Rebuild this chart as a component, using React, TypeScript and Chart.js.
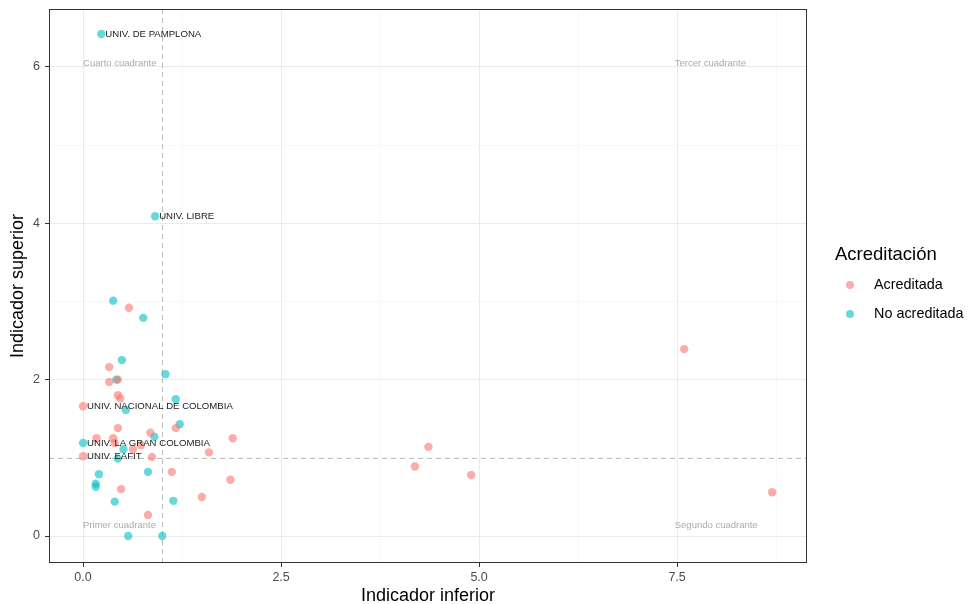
import React, { useEffect, useRef } from "react";
import { Chart, registerables } from "chart.js";

Chart.register(...registerables);

// ---------- Data ----------
const acredX = [0.58, 0.33, 0.33, 0.44, 0.44, 0.47, 0.0, 0.44, 0.17, 0.38, 0.40, 0.85, 1.17, 1.89, 1.59, 0.0, 0.87, 1.12, 1.86, 0.48, 1.50, 0.82, 0.63, 0.73, 4.19, 4.36, 4.90, 7.59, 8.70];
const acredY = [2.92, 2.16, 1.97, 2.00, 1.80, 1.76, 1.66, 1.38, 1.25, 1.25, 1.19, 1.32, 1.38, 1.25, 1.07, 1.02, 1.01, 0.82, 0.72, 0.60, 0.50, 0.27, 1.11, 1.16, 0.89, 1.14, 0.78, 2.39, 0.56];
const acredLabels = ["", "", "", "", "", "", "UNIV. NACIONAL DE COLOMBIA", "", "", "", "", "", "", "", "", "UNIV. EAFIT", "", "", "", "", "", "", "", "", "", "", "", "", ""];

const noAcredX = [0.23, 0.91, 0.38, 0.76, 0.49, 0.42, 1.04, 1.17, 0.54, 1.22, 0.90, 0.0, 0.51, 0.44, 0.20, 0.16, 0.16, 0.82, 0.40, 1.14, 0.57, 1.00];
const noAcredY = [6.42, 4.09, 3.01, 2.79, 2.25, 2.00, 2.07, 1.75, 1.61, 1.43, 1.27, 1.19, 1.11, 0.99, 0.79, 0.67, 0.63, 0.82, 0.44, 0.45, 0.0, 0.0];
const noAcredLabels = ["UNIV. DE PAMPLONA", "UNIV. LIBRE", "", "", "", "", "", "", "", "", "", "UNIV. LA GRAN COLOMBIA", "", "", "", "", "", "", "", "", "", ""];

const seriesNames = ["Acreditada", "No acreditada"];
const legendTitle = "Acreditación";
const xTitle = "Indicador inferior";
const yTitle = "Indicador superior";

const xTicks = [0, 1.25, 2.5, 3.75, 5, 6.25, 7.5, 8.75];
const xMajor = [0, 2.5, 5, 7.5];
const xTickLabels = ["0.0", "2.5", "5.0", "7.5"];
const yTicks = [0, 1, 2, 3, 4, 5, 6];
const yMajor = [0, 2, 4, 6];
const yTickLabels = ["0", "2", "4", "6"];

const quadrantNames = ["Cuarto cuadrante", "Tercer cuadrante", "Primer cuadrante", "Segundo cuadrante"];
const quadrantX = [0, 7.47, 0, 7.47];
const quadrantY = [6.05, 6.05, 0.14, 0.14];
const refX = 1;
const refY = 1;

const COLORS = ["rgba(248,118,109,0.6)", "rgba(0,191,196,0.6)"];
const FONT = "'Liberation Sans', Arial, Helvetica, sans-serif";

const idx = (arr: number[], v: number) => arr.findIndex((a) => Math.abs(a - v) < 1e-9);

const overlayPlugin = {
  id: "overlay",
  beforeDatasetsDraw(chart: any) {
    const { ctx, chartArea, scales } = chart;
    const x = scales.x, y = scales.y;
    ctx.save();
    ctx.beginPath();
    ctx.rect(chartArea.left, chartArea.top, chartArea.right - chartArea.left, chartArea.bottom - chartArea.top);
    ctx.clip();
    ctx.strokeStyle = "#bdbdbd";
    ctx.lineWidth = 1;
    ctx.setLineDash([5, 4]);
    const px = Math.round(x.getPixelForValue(refX)) + 0.5;
    ctx.beginPath();
    ctx.moveTo(px, chartArea.top);
    ctx.lineTo(px, chartArea.bottom);
    ctx.stroke();
    const py = Math.round(y.getPixelForValue(refY)) + 0.5;
    ctx.beginPath();
    ctx.moveTo(chartArea.left, py);
    ctx.lineTo(chartArea.right, py);
    ctx.stroke();
    ctx.setLineDash([]);
    ctx.fillStyle = "#ababab";
    ctx.font = `9.5px ${FONT}`;
    ctx.textAlign = "left";
    ctx.textBaseline = "middle";
    quadrantNames.forEach((n, i) => {
      ctx.fillText(n, x.getPixelForValue(quadrantX[i]), y.getPixelForValue(quadrantY[i]));
    });
    ctx.restore();
  },
  afterDatasetsDraw(chart: any) {
    const { ctx } = chart;
    ctx.save();
    ctx.fillStyle = "#1a1a1a";
    ctx.font = `9.6px ${FONT}`;
    ctx.textAlign = "left";
    ctx.textBaseline = "middle";
    const labelSets = [acredLabels, noAcredLabels];
    labelSets.forEach((labels, di) => {
      const meta = chart.getDatasetMeta(di);
      labels.forEach((lab, i) => {
        if (!lab) return;
        const el = meta.data[i];
        ctx.fillText(lab, el.x + 4, el.y + 0.5);
      });
    });
    ctx.restore();
  },
  afterDraw(chart: any) {
    const { ctx, chartArea } = chart;
    ctx.save();
    ctx.strokeStyle = "#333333";
    ctx.lineWidth = 1;
    ctx.strokeRect(chartArea.left + 0.5, chartArea.top + 0.5, chartArea.right - chartArea.left - 1, chartArea.bottom - chartArea.top - 1);
    ctx.fillStyle = "#000000";
    ctx.font = `18px ${FONT}`;
    ctx.textAlign = "center";
    ctx.textBaseline = "middle";
    ctx.fillText(xTitle, (chartArea.left + chartArea.right) / 2, 596);
    ctx.save();
    ctx.translate(18, (chartArea.top + chartArea.bottom) / 2);
    ctx.rotate(-Math.PI / 2);
    ctx.fillText(yTitle, 0, 0);
    ctx.restore();
    ctx.textAlign = "left";
    ctx.font = `18.5px ${FONT}`;
    ctx.fillText(legendTitle, 835, 255);
    ctx.font = `14.4px ${FONT}`;
    const ys = [285, 314];
    seriesNames.forEach((n, i) => {
      ctx.fillStyle = COLORS[i];
      ctx.beginPath();
      ctx.arc(850, ys[i], 4, 0, Math.PI * 2);
      ctx.fill();
      ctx.fillStyle = "#000000";
      ctx.fillText(n, 874, ys[i]);
    });
    ctx.restore();
  },
};

export default function App() {
  const ref = useRef<HTMLCanvasElement | null>(null);
  useEffect(() => {
    document.body.style.margin = "0";
    if (!ref.current) return;
    Chart.defaults.font.family = FONT;
    const chart = new Chart(ref.current, {
      type: "scatter",
      data: {
        datasets: [
          {
            label: seriesNames[0],
            data: acredX.map((v, i) => ({ x: v, y: acredY[i] })),
            backgroundColor: COLORS[0],
            borderWidth: 0,
            pointRadius: 4.2,
          },
          {
            label: seriesNames[1],
            data: noAcredX.map((v, i) => ({ x: v, y: noAcredY[i] })),
            backgroundColor: COLORS[1],
            borderWidth: 0,
            pointRadius: 4.2,
          },
        ],
      },
      options: {
        responsive: false,
        animation: false,
        layout: { padding: { left: 0, top: 9, right: 161, bottom: 0 } },
        plugins: { legend: { display: false }, tooltip: { enabled: false } },
        scales: {
          x: {
            type: "linear",
            min: -0.43,
            max: 9.14,
            afterBuildTicks: (s: any) => {
              s.ticks = xTicks.map((v) => ({ value: v }));
            },
            afterFit: (s: any) => {
              s.height = 41;
              s.paddingLeft = 0;
              s.paddingRight = 0;
            },
            ticks: {
              autoSkip: false,
              maxRotation: 0,
              padding: 3,
              color: "#4d4d4d",
              font: { size: 12.5 },
              callback: (v: any) => {
                const k = idx(xMajor, Number(v));
                return k >= 0 ? xTickLabels[k] : "";
              },
            },
            grid: {
              color: (c: any) => (c.tick && idx(xMajor, c.tick.value) >= 0 ? "#ebebeb" : "#f4f4f4"),
              lineWidth: (c: any) => (c.tick && idx(xMajor, c.tick.value) >= 0 ? 1 : 0.6),
              tickLength: 4,
              tickColor: (c: any) => (c.tick && idx(xMajor, c.tick.value) >= 0 ? "#333333" : "rgba(0,0,0,0)"),
            },
            border: { display: false },
          },
          y: {
            type: "linear",
            min: -0.345,
            max: 6.74,
            afterBuildTicks: (s: any) => {
              s.ticks = yTicks.map((v) => ({ value: v }));
            },
            afterFit: (s: any) => {
              s.width = 49;
              s.paddingTop = 0;
              s.paddingBottom = 0;
            },
            ticks: {
              autoSkip: false,
              padding: 5,
              color: "#4d4d4d",
              font: { size: 12.5 },
              callback: (v: any) => {
                const k = idx(yMajor, Number(v));
                return k >= 0 ? yTickLabels[k] : "";
              },
            },
            grid: {
              color: (c: any) => (c.tick && idx(yMajor, c.tick.value) >= 0 ? "#ebebeb" : "#f4f4f4"),
              lineWidth: (c: any) => (c.tick && idx(yMajor, c.tick.value) >= 0 ? 1 : 0.6),
              tickLength: 4,
              tickColor: (c: any) => (c.tick && idx(yMajor, c.tick.value) >= 0 ? "#333333" : "rgba(0,0,0,0)"),
            },
            border: { display: false },
          },
        },
      },
      plugins: [overlayPlugin],
    } as any);
    return () => chart.destroy();
  }, []);
  return <canvas ref={ref} width={968} height={604} style={{ display: "block" }} />;
}
